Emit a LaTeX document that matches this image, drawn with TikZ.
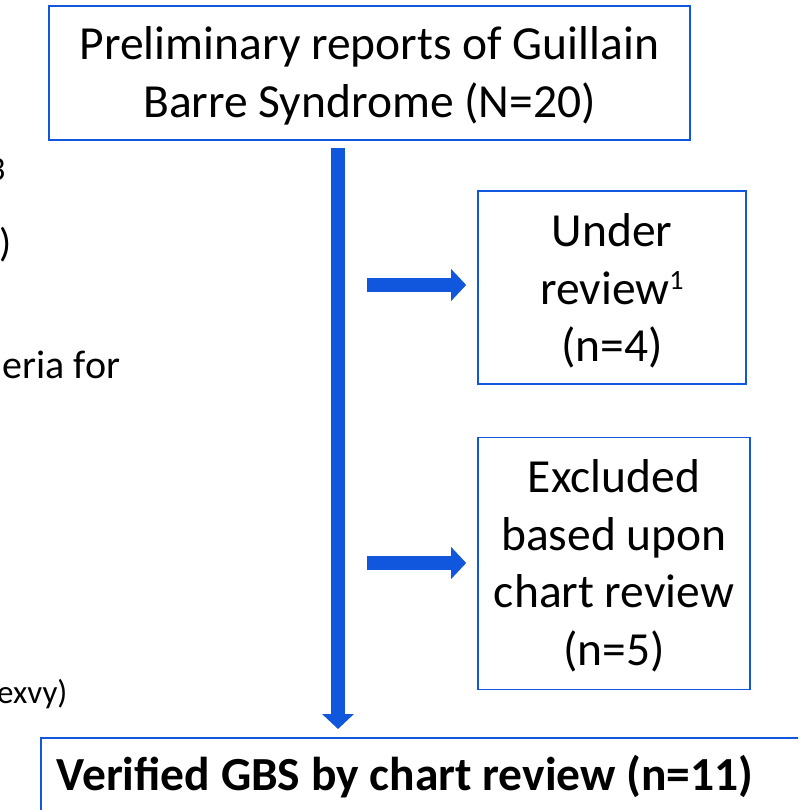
\documentclass[tikz,border=0pt]{standalone}
\usepackage{fontspec}
\setmainfont{Carlito}
\usetikzlibrary{arrows.meta}
\definecolor{fblue}{RGB}{17,87,221}
\begin{document}
\begin{tikzpicture}[x=1pt,y=-1pt,
  box/.style={draw=fblue,line width=1.6pt,inner sep=0pt},
  btext/.style={font=\fontsize{47.5}{57.5}\selectfont,align=center},
  ltext/.style={font=\fontsize{40}{44}\selectfont,anchor=base west},
  fat/.style={fblue,line width=14pt,-{Triangle[width=31pt,length=15pt]}}]
\useasboundingbox (0,0) rectangle (798,810);
\clip (0,0) rectangle (798,810);
% boxes
\node[box,minimum width=641pt,minimum height=134pt] (top) at (369.5,73) {};
\node[btext] (toptxt) at (369.5,76) {Preliminary reports of Guillain\\Barre Syndrome (N=20)};
\node[box,minimum width=268pt,minimum height=193pt] (ur) at (612,287.5) {};
\node[btext] (urtxt) at (612,291) {Under\\review\raisebox{15pt}{\fontsize{28}{28}\selectfont 1}\\(n=4)};
\node[box,minimum width=272pt,minimum height=252pt] (ex) at (614,563.5) {};
\node[btext] (extxt) at (614,566) {Excluded\\based upon\\chart review\\(n=5)};
\node[box,minimum width=800pt,minimum height=120pt,anchor=north west] (bot) at (40,737) {};
\node[font=\fontsize{47.5}{50}\selectfont\bfseries] (bottxt) at (405,777) {Verified GBS by chart review (n=11)};
% connectors
\coordinate (vs) at (338,148);
\coordinate (ve) at (338,729);
\draw[fat] (vs) -- (ve);
\coordinate (h1s) at (367,285);
\draw[fat] (h1s) -- ([xshift=-11pt]ur.west |- h1s);
\coordinate (h2s) at (367,563);
\draw[fat] (h2s) -- ([xshift=-11pt]ex.west |- h2s);
% cut-off text at left edge
\node[font=\fontsize{34}{36}\selectfont,anchor=base east] (f1) at (9,181) {3};
\node[font=\fontsize{40}{44}\selectfont,anchor=base east] (f2) at (15,256) {5)};
\node[ltext] (f3) at (-1,378) {eria for};
\node[font=\fontsize{33}{36}\selectfont,anchor=base east] (f5) at (71,703) {exvy)};
\end{tikzpicture}
\end{document}
